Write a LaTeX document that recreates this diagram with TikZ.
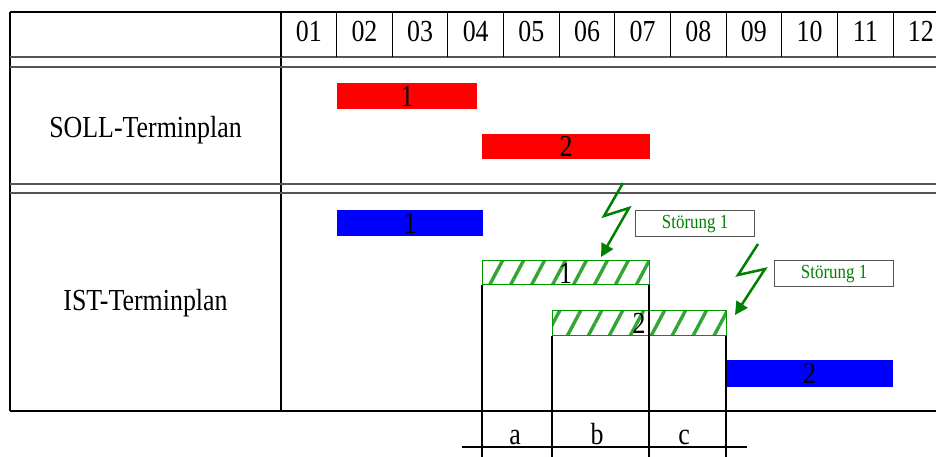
\documentclass[tikz,border=0pt]{standalone}
\usepackage{fontspec}
\setmainfont{Liberation Serif}
\usetikzlibrary{patterns.meta,arrows.meta}
\definecolor{sollred}{RGB}{255,0,0}
\definecolor{istblue}{RGB}{0,0,255}
\definecolor{boltgreen}{RGB}{0,128,0}
\definecolor{hatchgreen}{RGB}{50,165,50}
\definecolor{hatchedge}{RGB}{0,150,0}
\definecolor{gline}{RGB}{85,85,85}
\newcommand{\tallt}[1]{\scalebox{1}[1.18]{#1}}
\begin{document}
\begin{tikzpicture}[x=1bp,y=-1bp,
  gridline/.style={draw=black,line width=1.1bp},
  dblline/.style={draw=gline,line width=1.2bp},
  bigtxt/.style={font=\fontsize{26}{26}\selectfont},
  smalltxt/.style={font=\fontsize{17}{17}\selectfont},
  barbox/.style={anchor=north west,inner sep=0pt,outer sep=0pt,bigtxt},
  hatchbar/.style={barbox,draw=hatchedge,line width=1bp,
    pattern={Lines[angle=62,distance=18.5bp,line width=3.4bp]},pattern color=hatchgreen},
  noticebox/.style={anchor=north west,draw=gline,line width=1.2bp,inner sep=0pt,
    minimum width=119bp,minimum height=26bp,text=boltgreen,smalltxt},
  bolt/.style={draw=boltgreen,line width=2.5bp,line join=miter,
    -{Triangle[length=13bp,width=13bp]}},
  rowlabel/.style={anchor=base,bigtxt},
  guide/.style={draw=black,line width=1.1bp}]
\useasboundingbox (0,0) rectangle (936,457);
\clip (0,0) rectangle (936,457);
\fill[white] (0,0) rectangle (936,457);

% table frame
\draw[gridline] (10,12) -- (960,12);
\draw[gridline] (10,12) -- (10,411);
\draw[gridline] (281,12) -- (281,411);
\draw[gridline] (10,411) -- (960,411);
\draw[dblline] (10,57) -- (960,57);
\draw[dblline] (10,67) -- (960,67);
\draw[dblline] (10,184) -- (960,184);
\draw[dblline] (10,193) -- (960,193);

% header columns
\foreach \i in {1,...,12}{
  \pgfmathsetmacro{\xl}{281+55.64*(\i-1)}
  \draw[gridline] (\xl,12) -- (\xl,57);
}
\foreach \i/\t in {1/01,2/02,3/03,4/04,5/05,6/06,7/07,8/08,9/09,10/10,11/11,12/12}{
  \pgfmathsetmacro{\xc}{281+55.64*(\i-0.5)}
  \node[rowlabel] (h\i) at (\xc,42) {\tallt{\t}};
}

% row labels
\node[rowlabel] (soll) at (145.5,138) {\tallt{SOLL-Terminplan}};
\node[rowlabel] (ist) at (145.5,311) {\tallt{IST-Terminplan}};

% SOLL bars
\node[barbox,fill=sollred,minimum width=140bp,minimum height=26bp] (s1) at (337,83) {\tallt{1}};
\node[barbox,fill=sollred,minimum width=168bp,minimum height=25bp] (s2) at (482,134) {\tallt{2}};

% IST bars
\node[barbox,fill=istblue,minimum width=146bp,minimum height=26bp] (i1) at (337,210) {\tallt{1}};
\node[hatchbar,minimum width=167bp,minimum height=24bp] (d1) at (482,261) {\tallt{1}};
\node[hatchbar,minimum width=174bp,minimum height=25bp] (d2) at (552,311) {\tallt{2}};
\node[barbox,fill=istblue,minimum width=167bp,minimum height=27bp] (i2) at (726,360) {\tallt{2}};

% disturbance notes
\node[noticebox] (n1) at (635,210) {\tallt{Störung 1}};
\node[noticebox] (n2) at (774,260) {\tallt{Störung 1}};

% lightning arrows
\coordinate (a1) at (623,183);
\coordinate (a2) at (604,216);
\coordinate (a3) at (629,208);
\coordinate (a4) at (601,257);
\draw[bolt] (a1) -- (a2) -- (a3) -- (a4);
\coordinate (b1) at (758,244);
\coordinate (b2) at (738,275);
\coordinate (b3) at (765,269);
\coordinate (b4) at (735,315);
\draw[bolt] (b1) -- (b2) -- (b3) -- (b4);

% guide lines below
\coordinate (bot) at (0,457);
\draw[guide] (d1.south west) -- (d1.south west |- bot);
\draw[guide] (d1.south east) -- (d1.south east |- bot);
\draw[guide] (d2.south west) -- (d2.south west |- bot);
\draw[guide] (d2.south east) -- (d2.south east |- bot);
\coordinate (m1) at (462,447);
\coordinate (m2) at (747,447);
\draw[guide] (m1) -- (m2);
\node[rowlabel] (la) at (515,444) {\tallt{a}};
\node[rowlabel] (lb) at (597,444) {\tallt{b}};
\node[rowlabel] (lc) at (684,444) {\tallt{c}};
\end{tikzpicture}
\end{document}
